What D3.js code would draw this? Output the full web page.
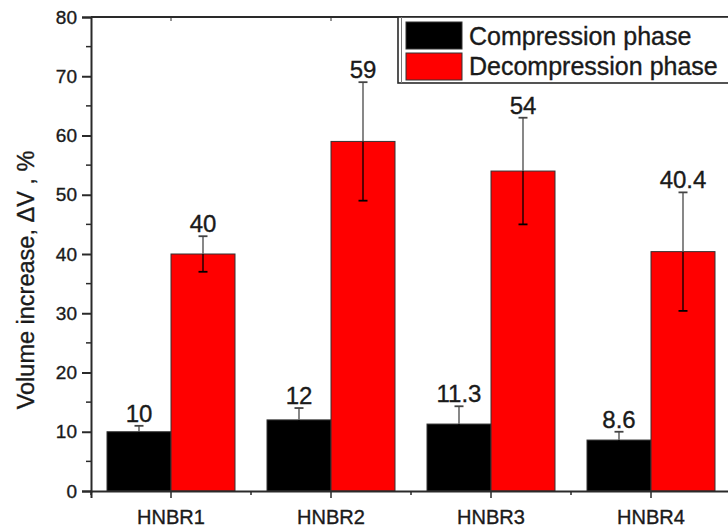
<!DOCTYPE html>
<html>
<head>
<meta charset="utf-8">
<script src="https://cdn.jsdelivr.net/npm/d3@7"></script>
<style>
  html, body { margin: 0; padding: 0; background: #fff; }
  svg { display: block; font-family: "Liberation Sans", Arial, sans-serif; }
  svg text { stroke: #1a1a1a; stroke-width: 0.35px; paint-order: stroke; }
</style>
</head>
<body>
<svg id="chart" width="728" height="531"></svg>
<script>
// Samples and phases
const categories = ["HNBR1", "HNBR2", "HNBR3", "HNBR4"];
const seriesNames = ["Compression phase", "Decompression phase"];
const seriesColors = ["#000000", "#ff0000"];

// Volume increase (%) with error half-widths
const compression = [10, 12, 11.3, 8.6];
const compressionErr = [1, 2, 3, 1.4];
const decompression = [40, 59, 54, 40.4];
const decompressionErr = [3, 10, 9, 10];

const yTicks = [0, 10, 20, 30, 40, 50, 60, 70, 80];
const yTitle = "Volume increase, \u0394V , %";

(function drawChart() {
  const svg = d3.select("#chart");
  const plotLeft = 91, plotRight = 731, plotTop = 17, plotBottom = 491;
  const textColor = "#1a1a1a", axisColor = "#2a2a2a";

  const x = d3.scaleBand().domain(categories).range([plotLeft, plotRight])
    .paddingInner(0.2).paddingOuter(0.1);
  const xSub = d3.scaleBand().domain(seriesNames).range([0, x.bandwidth()]);
  const y = d3.scaleLinear().domain([0, 80]).range([plotBottom, plotTop]);

  const rows = categories.map((c, i) => ({
    cat: c,
    items: [
      { s: seriesNames[0], v: compression[i], e: compressionErr[i], color: seriesColors[0] },
      { s: seriesNames[1], v: decompression[i], e: decompressionErr[i], color: seriesColors[1] }
    ]
  }));

  // Frame top line
  svg.append("line")
    .attr("x1", plotLeft).attr("x2", plotRight).attr("y1", plotTop).attr("y2", plotTop)
    .attr("stroke", axisColor).attr("stroke-width", 2);

  // Bars
  const groups = svg.append("g").selectAll("g").data(rows).join("g")
    .attr("transform", d => `translate(${x(d.cat)},0)`);

  groups.selectAll("rect").data(d => d.items).join("rect")
    .attr("x", d => xSub(d.s))
    .attr("width", xSub.bandwidth())
    .attr("y", d => y(d.v))
    .attr("height", d => y(0) - y(d.v))
    .attr("fill", d => d.color)
    .attr("stroke", "#333")
    .attr("stroke-width", 1);

  // Error bars: stem above the bar reads lighter, inside the bar dark
  const eb = groups.selectAll("g.err").data(d => d.items).join("g")
    .attr("class", "err")
    .attr("transform", d => `translate(${xSub(d.s) + xSub.bandwidth() / 2},0)`);
  eb.append("line")
    .attr("y1", d => y(d.v + d.e)).attr("y2", d => y(d.v))
    .attr("stroke", "#6a6a6a").attr("stroke-width", 1.6);
  eb.append("line")
    .attr("y1", d => y(d.v)).attr("y2", d => y(d.v - d.e))
    .attr("stroke", "#000").attr("stroke-width", 1.3);
  eb.append("line")
    .attr("x1", -4.5).attr("x2", 4.5)
    .attr("y1", d => y(d.v + d.e)).attr("y2", d => y(d.v + d.e))
    .attr("stroke", "#444").attr("stroke-width", 1.8);
  eb.append("line")
    .attr("x1", -4.5).attr("x2", 4.5)
    .attr("y1", d => y(d.v - d.e)).attr("y2", d => y(d.v - d.e))
    .attr("stroke", "#000").attr("stroke-width", 1.8);

  // Value labels
  eb.append("text")
    .attr("y", d => y(d.v + d.e) - 4)
    .attr("text-anchor", "middle")
    .attr("font-size", 24)
    .attr("fill", textColor)
    .text(d => String(d.v));

  // Y axis
  const yAxis = svg.append("g").attr("transform", `translate(${plotLeft},0)`)
    .call(d3.axisLeft(y).tickValues(yTicks).tickSize(9).tickPadding(5).tickFormat(d3.format("d")));
  yAxis.select(".domain").attr("stroke", axisColor).attr("stroke-width", 2);
  yAxis.selectAll(".tick line").attr("stroke", axisColor).attr("stroke-width", 2);
  yAxis.selectAll(".tick text").attr("font-size", 19).attr("fill", textColor)
    .attr("font-family", "Liberation Sans, Arial, sans-serif");
  // minor ticks
  svg.append("g").selectAll("line").data(d3.range(5, 80, 10)).join("line")
    .attr("x1", plotLeft - 5).attr("x2", plotLeft)
    .attr("y1", d => y(d)).attr("y2", d => y(d))
    .attr("stroke", axisColor).attr("stroke-width", 1.5);

  // X axis
  const xAxis = svg.append("g").attr("transform", `translate(0,${plotBottom})`)
    .call(d3.axisBottom(x).tickSize(7).tickPadding(12));
  xAxis.select(".domain").attr("stroke", axisColor).attr("stroke-width", 2);
  xAxis.selectAll(".tick line").attr("stroke", axisColor).attr("stroke-width", 1.5);
  xAxis.selectAll(".tick text").attr("font-size", 20).attr("fill", textColor)
    .attr("font-family", "Liberation Sans, Arial, sans-serif");
  // minor ticks between categories
  const step = x.step();
  svg.append("g").selectAll("line")
    .data([plotLeft].concat(categories.map(c => x(c) + x.bandwidth() / 2 + step / 2)))
    .join("line")
    .attr("x1", d => d).attr("x2", d => d)
    .attr("y1", plotBottom).attr("y2", plotBottom + 4)
    .attr("stroke", axisColor).attr("stroke-width", 1.5);
  // small top ticks
  svg.append("g").selectAll("line").data(categories).join("line")
    .attr("x1", d => x(d) + x.bandwidth() / 2).attr("x2", d => x(d) + x.bandwidth() / 2)
    .attr("y1", plotTop).attr("y2", plotTop + 4)
    .attr("stroke", axisColor).attr("stroke-width", 1);

  // Y title
  svg.append("text")
    .attr("transform", `translate(34,280) rotate(-90)`)
    .attr("text-anchor", "middle")
    .attr("font-size", 23.5)
    .attr("fill", textColor)
    .text(yTitle);

  // Legend
  const lg = svg.append("g");
  lg.append("rect").attr("x", 398).attr("y", 17).attr("width", 340).attr("height", 66)
    .attr("fill", "#fff").attr("stroke", axisColor).attr("stroke-width", 1.6);
  lg.append("line").attr("x1", 401.5).attr("x2", 401.5).attr("y1", 17).attr("y2", 83)
    .attr("stroke", "#777").attr("stroke-width", 1);
  seriesNames.forEach((name, i) => {
    lg.append("rect").attr("x", 406).attr("y", 22 + i * 31).attr("width", 56).attr("height", 27)
      .attr("fill", seriesColors[i]).attr("stroke", "#333").attr("stroke-width", 1);
    lg.append("text").attr("x", 469).attr("y", 45 + i * 30)
      .attr("font-size", 25).attr("fill", textColor).text(name);
  });
})();
</script>
</body>
</html>
